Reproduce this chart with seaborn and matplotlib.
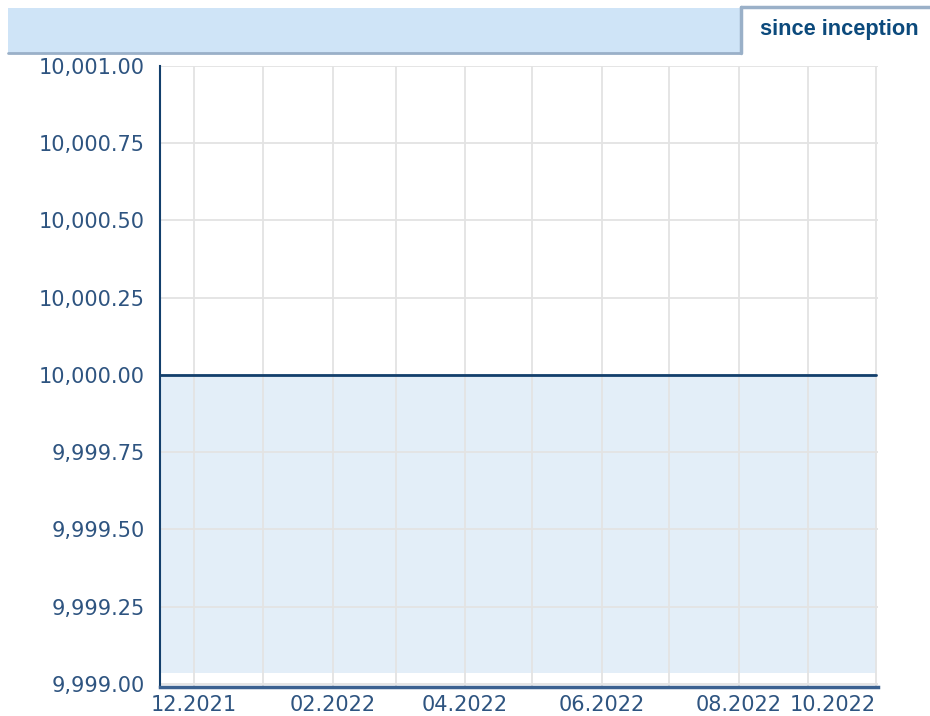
import matplotlib
matplotlib.use("Agg")
from matplotlib import pyplot as plt
from matplotlib.patches import Rectangle
from matplotlib.lines import Line2D
import matplotlib.ticker as mticker
import pandas as pd
import seaborn as sns

# data: flat at 10,000 from inception to Oct 2022
dates = ['2021-11-16', '2021-12-01', '2022-01-01', '2022-02-01', '2022-03-01',
         '2022-04-01', '2022-05-01', '2022-06-01', '2022-07-01', '2022-08-01',
         '2022-09-01', '2022-10-01']
values = [10000.0] * len(dates)

grid_months = ['2021-12-01', '2022-01-01', '2022-02-01', '2022-03-01', '2022-04-01',
               '2022-05-01', '2022-06-01', '2022-07-01', '2022-08-01', '2022-09-01',
               '2022-10-01']
month_labels = ['12.2021', '', '02.2022', '', '04.2022', '', '06.2022', '',
                '08.2022', '', '10.2022']
y_ticks = [9999.0, 9999.25, 9999.5, 9999.75, 10000.0, 10000.25, 10000.5, 10000.75, 10001.0]

df = pd.DataFrame({'date': pd.to_datetime(dates), 'value': values})

sns.set_style("white")
label_col = '#2e5480'
line_col = '#133f6c'

fig = plt.figure(figsize=(9.3, 7.16), dpi=100)
ax = fig.add_axes([160/930, 1-687/716, (878-160)/930, (687-66)/716])

ax.fill_between(df['date'], df['value'], 9999.035, color='#e3eef8', lw=0, zorder=1)
sns.lineplot(data=df, x='date', y='value', color=line_col, lw=2, ax=ax, zorder=3)

ax.set_xlim(pd.Timestamp('2021-11-16'), pd.Timestamp('2022-10-02'))
ax.set_ylim(9998.99, 10001.0)

ax.set_xticks(pd.to_datetime(grid_months))
ax.set_xticklabels(month_labels)
ax.set_yticks(y_ticks)
ax.yaxis.set_major_formatter(mticker.FuncFormatter(lambda v, p: '{:,.2f}'.format(v)))
ax.set_axisbelow('line')
ax.grid(True, color='#e3e3e3', lw=1.3)
ax.tick_params(axis='both', length=0, labelsize=15, colors=label_col)
ax.tick_params(axis='x', pad=6)
ax.tick_params(axis='y', pad=11)
ax.get_xticklabels()[-1].set_ha('right')
ax.set_xlabel('')
ax.set_ylabel('')

for s in ['top', 'right']:
    ax.spines[s].set_visible(False)
ax.spines['left'].set_color(line_col)
ax.spines['left'].set_linewidth(1.5)
ax.spines['bottom'].set_color('#3b6190')
ax.spines['bottom'].set_linewidth(2.5)

# header bar and tab
W, H = 930, 716
def fx(px):
    return px / W
def fy(py):
    return 1 - py / H

fig.patches.append(Rectangle((fx(8), fy(53)), fx(740) - fx(8), fy(8) - fy(53),
                             transform=fig.transFigure, color='#cfe4f7', lw=0))
border = '#9ab0c8'
fig.lines.append(Line2D([fx(8), fx(740)], [fy(53), fy(53)], transform=fig.transFigure,
                        color=border, lw=2))
fig.lines.append(Line2D([fx(741), fx(741)], [fy(53), fy(7)], transform=fig.transFigure,
                        color=border, lw=2.5))
fig.lines.append(Line2D([fx(741), fx(930)], [fy(7), fy(7)], transform=fig.transFigure,
                        color=border, lw=2.5))
fig.text(fx(839), fy(29), 'since inception', ha='center', va='center',
         fontsize=15.7, fontweight='bold', color='#0c4a7c', family='Liberation Sans')

fig.savefig('out.png', dpi=100)
